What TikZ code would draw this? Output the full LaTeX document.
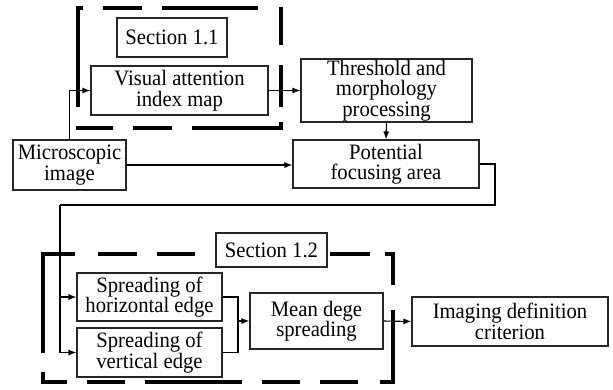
\documentclass[tikz,border=0pt]{standalone}
\usepackage{fontspec}
\setmainfont{Liberation Serif}[FakeStretch=0.94]
\usetikzlibrary{arrows.meta}
\begin{document}
\begin{tikzpicture}[x=1pt,y=-1pt,
  box/.style={draw=black!85, line width=1.1pt, inner sep=0pt, align=center, fill=white,
    font=\fontsize{22}{20.5}\selectfont},
  conn/.style={line width=1.1pt},
  arr/.style={conn,-{Latex[length=8pt,width=6pt]}},
  dsh/.style={line width=3.5pt}]
\useasboundingbox (0,0) rectangle (613,389);
% dashed frame of section 1.1
\draw[dsh] (78,107) -- (78,8) -- (83,8)
  (103,8) -- (142,8)  (162,8) -- (258,8)
  (281,7) -- (281,45)  (281,65) -- (281,107)
  (281,122) -- (281,128) -- (192,128)
  (172,128) -- (133,128)  (113,128) -- (76,128);
% dashed frame of section 1.2
\draw[dsh] (43,353) -- (43,254) -- (75,254)
  (98,254) -- (137,254)  (157,254) -- (195,254)
  (330,254) -- (370,254)  (385,254) -- (393,254) -- (393,285)
  (393,310) -- (393,382) -- (380,382)
  (358,382) -- (320,382)  (300,382) -- (262,382)
  (242,382) -- (145,382)  (125,382) -- (87,382)
  (67,382) -- (43,382) -- (43,372);
% nodes
\node[box, minimum width=110pt, minimum height=39pt] (sec1) at (172,37.5) {Section 1.1};
\node[box, minimum width=177pt, minimum height=49pt, font=\fontsize{22}{21.5}\selectfont] (visual) at (179.5,90.5) {Visual attention\\index map};
\node[box, minimum width=171pt, minimum height=63pt] (thresh) at (386.5,90.5) {Threshold and\\morphology\\processing};
\node[box, minimum width=186pt, minimum height=48pt] (pot) at (386,164) {Potential\\focusing area};
\node[box, minimum width=113pt, minimum height=50pt] (micro) at (69.5,165) {Microscopic\\image};
\node[box, minimum width=111pt, minimum height=34pt] (sec2) at (271.5,250) {Section 1.2};
\node[box, minimum width=145pt, minimum height=48pt] (sph) at (149.5,297) {Spreading of\\horizontal edge};
\node[box, minimum width=145pt, minimum height=49pt] (spv) at (149.5,352.5) {Spreading of\\vertical edge};
\node[box, minimum width=133pt, minimum height=56pt] (mean) at (316.5,321) {Mean dege\\spreading};
\node[box, minimum width=196pt, minimum height=49pt] (img) at (510,321.5) {Imaging definition\\criterion};
% connectors
\coordinate (c1) at (495,205);
\coordinate (c2) at (60,205);
\coordinate (m) at (238,321);
\draw[arr] (micro.north) |- (visual.west);
\draw[arr] (visual.east) -- (thresh.west);
\draw[arr] (thresh.south) -- (pot.north);
\draw[arr] (micro.east) -- (micro.east -| pot.west);
\draw[conn] (pot.east) -| (c1) -- (c2);
\draw[arr] (c2) |- (sph.west);
\draw[arr] (c2) |- (spv.west);
\draw[conn] (sph.east) -| (m);
\draw[conn] (spv.east) -| (m);
\draw[arr] (m) -- (mean.west);
\draw[arr] (mean.east) -- (img.west);
\end{tikzpicture}
\end{document}
